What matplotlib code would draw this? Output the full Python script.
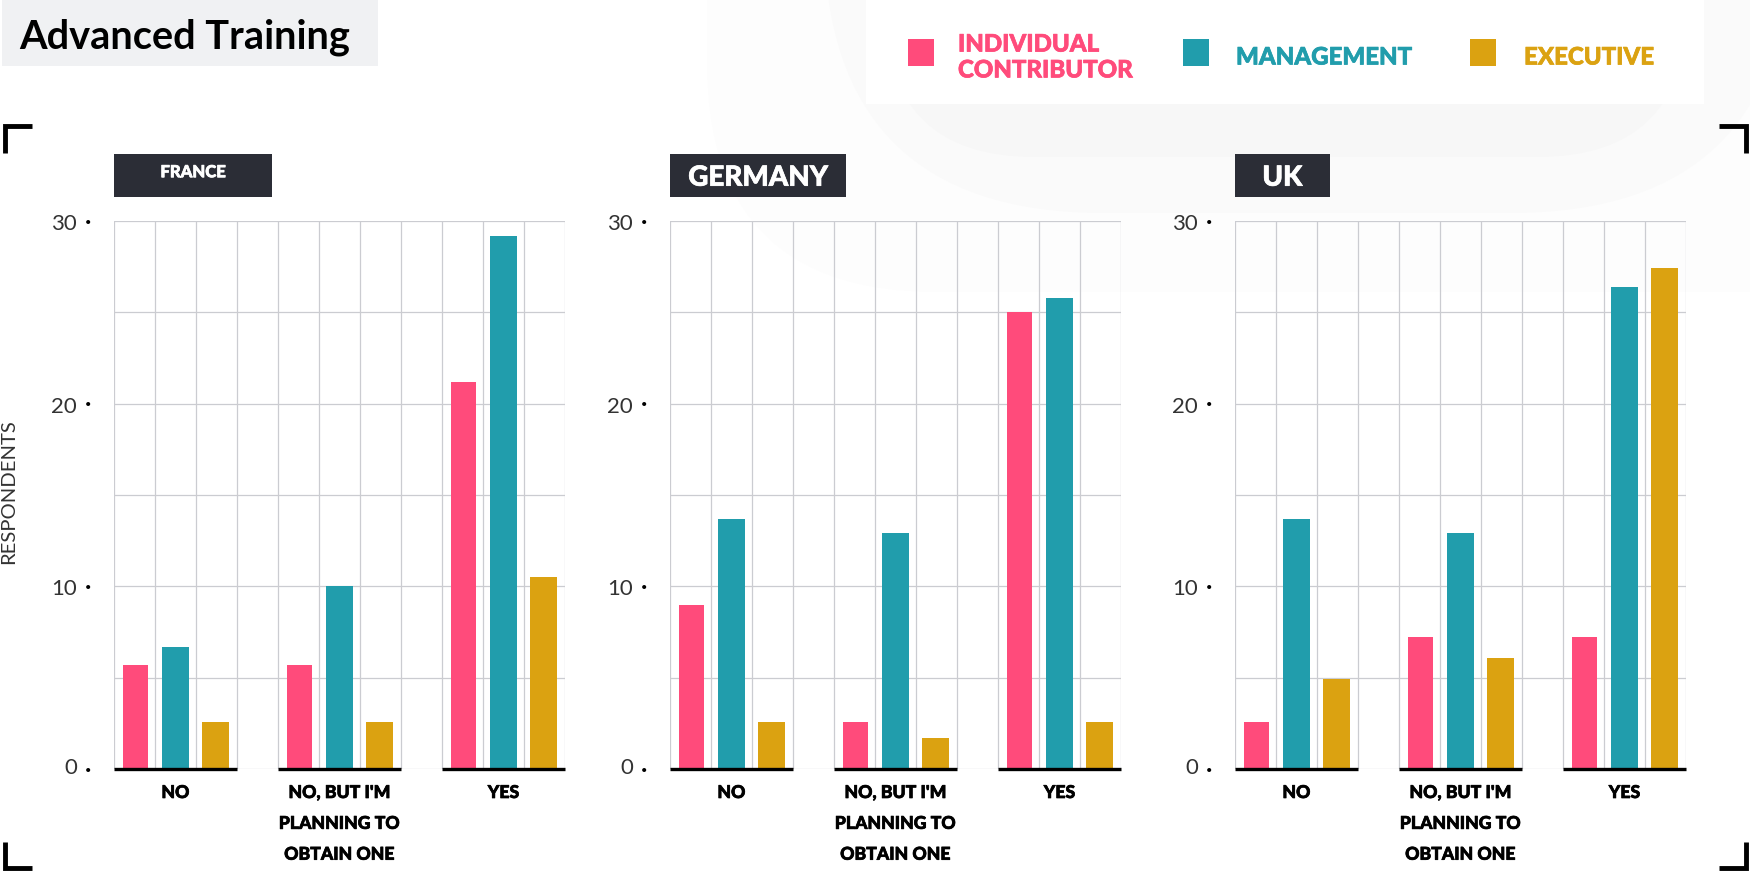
import matplotlib
matplotlib.use('Agg')
import matplotlib.pyplot as plt
import matplotlib.patheffects as pe
from matplotlib.patches import FancyBboxPatch, Rectangle

plt.rcParams['font.family'] = ['Lato', 'DejaVu Sans']

W, H = 1750, 872

countries = ['FRANCE', 'GERMANY', 'UK']
answers = ['NO', "NO, BUT I'M\nPLANNING TO\nOBTAIN ONE", 'YES']
roles = ['INDIVIDUAL\nCONTRIBUTOR', 'MANAGEMENT', 'EXECUTIVE']
role_colors = ['#ff4b7b', '#219dac', '#dba211']

# one list per role, values for NO / PLANNING / YES
france_ic = [5.7, 5.7, 21.2]
france_mgmt = [6.7, 10.0, 29.2]
france_exec = [2.6, 2.6, 10.5]
germany_ic = [9.0, 2.6, 25.0]
germany_mgmt = [13.7, 12.9, 25.8]
germany_exec = [2.6, 1.7, 2.6]
uk_ic = [2.6, 7.2, 7.2]
uk_mgmt = [13.7, 12.9, 26.4]
uk_exec = [4.9, 6.1, 27.4]


def px_axes(fig, x0, y0, x1, y1):
    # axes from pixel box, y counted from the top
    return fig.add_axes([x0 / W, 1 - y1 / H, (x1 - x0) / W, (y1 - y0) / H])


def fatten(txt, color, width=0.5):
    # Lato bold is a bit thin next to the original lettering
    txt.set_path_effects([pe.withStroke(linewidth=width, foreground=color)])


def background(bg):
    bg.set_xlim(0, W)
    bg.set_ylim(H, 0)
    bg.axis('off')
    # faint rounded shapes behind everything
    bg.add_patch(FancyBboxPatch((707, -500), 1300, 792, boxstyle='round,pad=0,rounding_size=230',
                                fc='#fdfdfd', ec='none'))
    bg.add_patch(FancyBboxPatch((824, -500), 966, 713, boxstyle='round,pad=0,rounding_size=280',
                                fc='#fafafa', ec='none'))
    bg.add_patch(FancyBboxPatch((885, -500), 802, 657, boxstyle='round,pad=0,rounding_size=150',
                                fc='#f7f7f7', ec='none'))
    bg.add_patch(Rectangle((866, 0), 838, 104, fc='white', ec='none'))
    bg.add_patch(Rectangle((2, 0), 376, 66, fc='#f0f1f3', ec='none'))
    bg.text(19, 37, 'Advanced Training', fontsize=28.6, fontweight='bold', color='black', va='center')

    # corner brackets
    corners = [
        ([4.5, 4.5, 32], [153, 126, 126]),
        ([4.5, 4.5, 32], [842, 868, 868]),
        ([1719, 1745.5, 1745.5], [126, 126, 153]),
        ([1719, 1745.5, 1745.5], [868, 868, 842]),
    ]
    for xs, ys in corners:
        bg.plot(xs, ys, color='black', lw=3.5, solid_joinstyle='miter', solid_capstyle='butt')

    # legend
    lx = [908, 1183, 1470]
    tx = [958, 1236, 1524]
    for i in range(3):
        bg.add_patch(Rectangle((lx[i], 39), 26, 27, fc=role_colors[i], ec='none'))
        t = bg.text(tx[i], 57, roles[i], color=role_colors[i], fontsize=17.3, fontweight='black',
                    va='center', linespacing=1.15)
        fatten(t, role_colors[i])


def panel(ax, name, ic, mgmt, execu, tag_w, tag_size, tag_y):
    series = [ic, mgmt, execu]
    offsets = [0.52, 1.5, 2.48]
    widths = [0.62, 0.65, 0.65]
    for g in range(3):
        for r in range(3):
            ax.bar(4 * g + offsets[r], series[r][g], width=widths[r], color=role_colors[r], zorder=3)
        ax.plot([4 * g, 4 * g + 3], [0, 0], color='black', lw=2.4, zorder=4,
                solid_capstyle='butt', clip_on=False)
    ax.set_xlim(0, 11)
    ax.set_ylim(0, 30)
    ax.set_xticks(range(12))
    ax.set_yticks(range(0, 31, 5))
    ax.grid(True, color='#cbccd1', lw=0.9, zorder=0)
    ax.set_axisbelow(True)
    ax.tick_params(length=0, labelbottom=False, labelleft=False)
    for s in ax.spines.values():
        s.set_visible(False)
    ax.patch.set_alpha(0)

    for v in [0, 10, 20, 30]:
        dy = 1 if v == 0 else -3
        ax.annotate(str(v), (0, v), xytext=(-37, dy), textcoords='offset pixels', ha='right',
                    va='center', fontsize=16, color='#333333')
        ax.annotate('•', (0, v), xytext=(-26, -1), textcoords='offset pixels', ha='center',
                    va='center', fontsize=8, color='black')
    for g in range(3):
        t = ax.annotate(answers[g], (4 * g + 1.5, 0), xytext=(0, -15), textcoords='offset pixels', ha='center',
                        va='top', fontsize=12.7, fontweight='black', color='black', linespacing=1.99)
        fatten(t, 'black')

    # country tag above the panel
    ax.add_patch(Rectangle((0, 1.043), tag_w, 0.08, transform=ax.transAxes,
                           fc='#2b2d36', ec='none', clip_on=False))
    t = ax.text(tag_w / 2, tag_y, name, transform=ax.transAxes, color='white', fontsize=tag_size, fontweight='black',
                ha='center', va='center')
    fatten(t, 'white')


def main():
    fig = plt.figure(figsize=(W / 100, H / 100), dpi=100, facecolor='white')
    bg = fig.add_axes([0, 0, 1, 1])
    background(bg)

    a1 = px_axes(fig, 114, 221, 565, 769)
    a2 = px_axes(fig, 670, 221, 1121, 769)
    a3 = px_axes(fig, 1235, 221, 1686, 769)
    panel(a1, countries[0], france_ic, france_mgmt, france_exec, 0.35, 12, 1.089)
    panel(a2, countries[1], germany_ic, germany_mgmt, germany_exec, 0.39, 20, 1.079)
    panel(a3, countries[2], uk_ic, uk_mgmt, uk_exec, 0.21, 20, 1.079)

    fig.text(9 / W, 1 - 492 / H, 'RESPONDENTS', rotation=90, fontsize=14.6,
             color='#333333', ha='center', va='center')

    fig.savefig('out.png', dpi=100)


if __name__ == "__main__":
    main()
